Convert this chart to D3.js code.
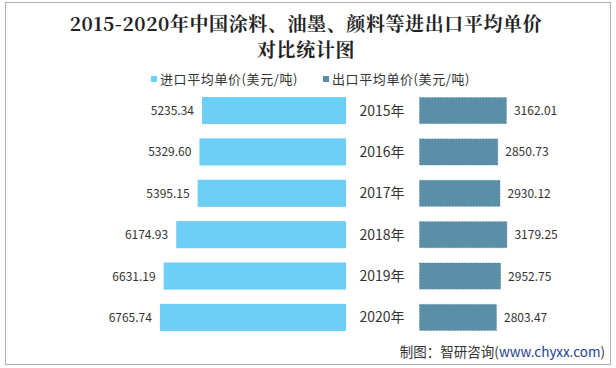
<!DOCTYPE html>
<html><head><meta charset="utf-8">
<script src="https://cdn.jsdelivr.net/npm/d3@7/dist/d3.min.js"></script>
<style>body{margin:0;background:#fff}svg{display:block}</style>
</head><body>
<script>
const years = ["2015年","2016年","2017年","2018年","2019年","2020年"];
const importPrice = [5235.34,5329.60,5395.15,6174.93,6631.19,6765.74];
const exportPrice = [3162.01,2850.73,2930.12,3179.25,2952.75,2803.47];
const seriesNames = ["进口平均单价(美元/吨)","出口平均单价(美元/吨)"];
const colors = ["#6dcff6","#5b8fa8"];

const W=616,H=368;
const svg=d3.select("body").append("svg").attr("width",W).attr("height",H);
svg.append("rect").attr("x",5.5).attr("y",2.5).attr("width",605).attr("height",362)
  .attr("fill","#fff").attr("stroke","#b0b0b0").attr("stroke-width",1);

const cjk="'Noto Sans CJK SC','Noto Sans',sans-serif";
const title=svg.append("text").attr("text-anchor","middle").attr("font-family","'Noto Serif CJK SC','Noto Sans CJK SC',serif")
  .attr("font-weight","bold").attr("font-size",19).attr("letter-spacing",0.6).attr("fill","#222");
title.append("tspan").attr("x",306).attr("y",31).text("2015-2020年中国涂料、油墨、颜料等进出口平均单价");
title.append("tspan").attr("x",306).attr("y",57).text("对比统计图");

// legend
const leg=[{x:151,t:seriesNames[0],c:colors[0]},{x:323,t:seriesNames[1],c:colors[1]}];
leg.forEach(l=>{
  svg.append("rect").attr("x",l.x).attr("y",76).attr("width",6).attr("height",6).attr("fill",l.c);
  svg.append("text").attr("x",l.x+9).attr("y",83.5).attr("font-family",cjk).attr("font-size",13)
    .attr("letter-spacing",0.6).attr("fill","#333").text(l.t);
});

const y=d3.scaleBand().domain(years).range([90,338]).paddingInner(0.345).paddingOuter(0.17);
const x=d3.scaleLinear().domain([0,8000]).range([0,220]);
const xR=d3.scaleLinear().domain([0,8000]).range([0,222.5]);
const leftEdge=346,rightStart=419;

const rows=svg.append("g");
years.forEach((yr,i)=>{
  const yy=y(yr),bh=y.bandwidth(),cy=yy+bh/2;
  const lw=x(importPrice[i]);
  rows.append("rect").attr("x",leftEdge-lw).attr("y",yy).attr("width",lw).attr("height",bh).attr("fill",colors[0]);
  rows.append("text").attr("x",leftEdge-lw-8).attr("y",cy+4.5).attr("text-anchor","end")
    .attr("font-family",cjk).attr("font-size",12).attr("fill","#333").text(importPrice[i].toFixed(2));
  const rw=xR(exportPrice[i]);
  rows.append("rect").attr("x",rightStart+0.5).attr("y",yy+0.5).attr("width",rw-1).attr("height",bh-1).attr("fill",colors[1])
    .attr("stroke","#55869e").attr("stroke-dasharray","1.5,1.5").attr("stroke-width",0.7);
  rows.append("text").attr("x",rightStart+rw+7).attr("y",cy+4.5)
    .attr("font-family",cjk).attr("font-size",12).attr("fill","#333").text(exportPrice[i].toFixed(2));
  rows.append("text").attr("x",382).attr("y",cy+5).attr("text-anchor","middle")
    .attr("font-family",cjk).attr("font-size",14).attr("fill","#333").text(yr);
});

const src=svg.append("text").attr("x",605).attr("y",357).attr("text-anchor","end").attr("font-family",cjk).attr("font-size",13.5).attr("fill","#333");
src.append("tspan").text("制图：智研咨询(");
src.append("tspan").attr("fill","#1f3f8f").text("www.chyxx.com");
src.append("tspan").text(")");
</script>
</body></html>
